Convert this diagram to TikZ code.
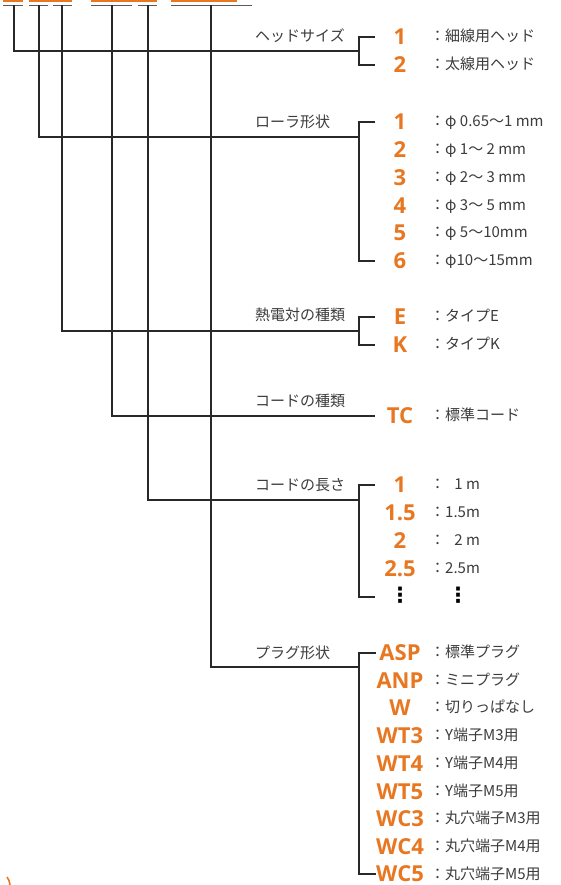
\documentclass[tikz,border=0pt]{standalone}
\usepackage{fontspec}
\usepackage{calc}
\setmainfont{Noto Sans CJK JP}
\newfontfamily\codefont{Open Sans}
\newfontfamily\symfont{DejaVu Sans}
\definecolor{codeor}{RGB}{232,119,34}
\definecolor{lbl}{RGB}{60,60,60}
\definecolor{ln}{RGB}{40,40,40}
\definecolor{uln}{RGB}{90,90,90}
\begin{document}
\begin{tikzpicture}[x=1pt,y=-1pt,
  conn/.style={draw=ln, line width=1.3pt},
  uline/.style={draw=uln, line width=1.6pt},
  code/.style={anchor=base, text=codeor, font=\codefont\bfseries\fontsize{22}{22}\selectfont, inner sep=0pt, text depth=0pt},
  desc/.style={anchor=base west, text=lbl, font=\fontsize{15}{15}\selectfont, inner sep=0pt},
  grp/.style={anchor=base west, text=lbl, font=\fontsize{15}{15}\selectfont, inner sep=0pt},
  vdots/.style={anchor=center, text=black, font=\symfont\bfseries\fontsize{21}{21}\selectfont, inner sep=0pt}]
\useasboundingbox (0,0) rectangle (561,885);
\fill[white] (0,0) rectangle (561,885);

% clipped orange remnants at top and bottom-left
\fill[codeor] (3,0) rectangle (23,2.5);
\fill[codeor] (29,0) rectangle (72,2.5);
\fill[codeor] (91,0) rectangle (157,2.5);
\fill[codeor] (171,0) rectangle (237,2.5);
\draw[codeor, line width=1.6pt] (7,877) .. controls (9,880) .. (10,885);

% underlines
\draw[uline] (3,5.5) -- (23,5.5);
\draw[uline] (29,5.5) -- (48,5.5);
\draw[uline] (53,5.5) -- (72,5.5);
\draw[uline] (91,5.5) -- (132,5.5);
\draw[uline] (138,5.5) -- (157,5.5);
\draw[uline] (171,5.5) -- (252,5.5);

\coordinate (u1) at (14,5.5);
\coordinate (u2) at (39,5.5);
\coordinate (u3) at (62,5.5);
\coordinate (u4) at (112,5.5);
\coordinate (u5) at (148,5.5);
\coordinate (u6) at (211,5.5);

% group labels
\node[grp] (gh) at (255,41.5) {ヘッドサイズ};
\node[grp] (gr) at (255,127.5) {ローラ形状};
\node[grp] (gt) at (255,320.5) {熱電対の種類};
\node[grp] (gc) at (255,406) {コードの種類};
\node[grp] (gl) at (255,490.5) {コードの長さ};
\node[grp] (gp) at (255,658.5) {プラグ形状};

% codes and descriptions
\node[code] (h1) at (400,44.8) {1};
\node[code] (h2) at (400,72.8) {2};
\node[desc] (dh1) at (430,41.5) {：細線用ヘッド};
\node[desc] (dh2) at (430,69.5) {：太線用ヘッド};

\node[code] (r1) at (400,129.8) {1};
\node[code] (r2) at (400,157.8) {2};
\node[code] (r3) at (400,185.8) {3};
\node[code] (r4) at (400,213.8) {4};
\node[code] (r5) at (400,240.8) {5};
\node[code] (r6) at (400,268.8) {6};
\node[desc] (dr1) at (430,126.5) {：φ 0.65～1 mm};
\node[desc] (dr2) at (430,154.5) {：φ 1～ 2 mm};
\node[desc] (dr3) at (430,182.5) {：φ 2～ 3 mm};
\node[desc] (dr4) at (430,210.5) {：φ 3～ 5 mm};
\node[desc] (dr5) at (430,237.5) {：φ 5～10mm};
\node[desc] (dr6) at (430,265.5) {：φ10～15mm};

\node[code] (t1) at (400,324.8) {E};
\node[code] (t2) at (400,352.8) {K};
\node[desc] (dt1) at (430,321.5) {：タイプE};
\node[desc] (dt2) at (430,349.5) {：タイプK};

\node[code] (c1) at (400,423.3) {TC};
\node[desc] (dc1) at (430,420) {：標準コード};

\node[code] (l1) at (400,492.8) {1};
\node[code] (l2) at (400,520.8) {1.5};
\node[code] (l3) at (400,548.8) {2};
\node[code] (l4) at (400,576.8) {2.5};
\node[vdots] (l5) at (400,595) {⋮};
\node[desc] (dl1) at (430,489.5) {：\makebox[\widthof{1.5m}][r]{1 m}};
\node[desc] (dl2) at (430,517.5) {：1.5m};
\node[desc] (dl3) at (430,545.5) {：\makebox[\widthof{1.5m}][r]{2 m}};
\node[desc] (dl4) at (430,573.5) {：2.5m};
\node[vdots] (dl5) at (458,595) {⋮};

\node[code] (p1) at (400,660.3) {ASP};
\node[code] (p2) at (400,688.1) {ANP};
\node[code] (p3) at (400,715.9) {W};
\node[code] (p4) at (400,743.7) {WT3};
\node[code] (p5) at (400,771.5) {WT4};
\node[code] (p6) at (400,799.2) {WT5};
\node[code] (p7) at (400,826.9) {WC3};
\node[code] (p8) at (400,854.6) {WC4};
\node[code] (p9) at (400,881.5) {WC5};
\node[desc] (dp1) at (430,657.3) {：標準プラグ};
\node[desc] (dp2) at (430,685.1) {：ミニプラグ};
\node[desc] (dp3) at (430,712.9) {：切りっぱなし};
\node[desc] (dp4) at (430,740.7) {：Y端子M3用};
\node[desc] (dp5) at (430,768.5) {：Y端子M4用};
\node[desc] (dp6) at (430,796.2) {：Y端子M5用};
\node[desc] (dp7) at (430,823.9) {：丸穴端子M3用};
\node[desc] (dp8) at (430,851.6) {：丸穴端子M4用};
\node[desc] (dp9) at (430,879.0) {：丸穴端子M5用};

% bracket coordinates
\coordinate (bh) at (359,51);
\coordinate (bht) at (375,37);
\coordinate (bhb) at (375,65);
\coordinate (br) at (359,137);
\coordinate (brt) at (375,122);
\coordinate (brb) at (375,261);
\coordinate (bt) at (359,331);
\coordinate (btt) at (375,317);
\coordinate (btb) at (375,345);
\coordinate (bc) at (375,416);
\coordinate (bl) at (359,500);
\coordinate (blt) at (375,485);
\coordinate (blb) at (375,597);
\coordinate (bp) at (359,667);
\coordinate (bpt) at (376,653);
\coordinate (bpb) at (376,874);

% connectors
\draw[conn] (u1) |- (bh);
\draw[conn] (bht) -- ++(-16,0) |- (bhb);
\draw[conn] (u2) |- (br);
\draw[conn] (brt) -- ++(-16,0) |- (brb);
\draw[conn] (u3) |- (bt);
\draw[conn] (btt) -- ++(-16,0) |- (btb);
\draw[conn] (u4) |- (bc);
\draw[conn] (u5) |- (bl);
\draw[conn] (blt) -- ++(-16,0) |- (blb);
\draw[conn] (u6) |- (bp);
\draw[conn] (bpt) -- ++(-17,0) |- (bpb);
\end{tikzpicture}
\end{document}
